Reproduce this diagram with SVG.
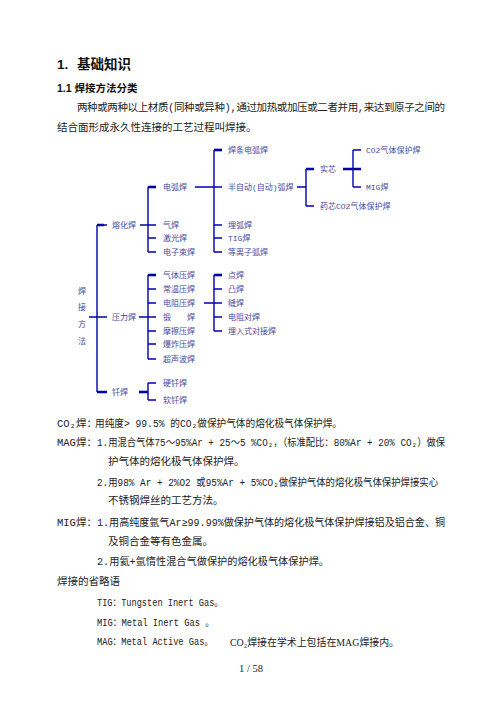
<svg xmlns="http://www.w3.org/2000/svg" width="502" height="708" viewBox="0 0 502 708">
<style>
.t{font-family:'Liberation Mono','Noto Sans CJK SC',monospace;font-size:10.5px;fill:#222;dominant-baseline:central}
.s{font-family:'Liberation Serif','Noto Sans CJK SC',serif;font-size:10.5px;fill:#222;dominant-baseline:central}
.h1{font-family:'Liberation Sans','Noto Sans CJK SC',sans-serif;font-size:13.5px;font-weight:bold;fill:#111;dominant-baseline:central}
.h2{font-family:'Liberation Sans','Noto Sans CJK SC',sans-serif;font-size:10.5px;font-weight:bold;fill:#111;dominant-baseline:central}
.n{font-family:'Liberation Mono','Noto Sans CJK SC',monospace;font-size:8px;fill:#4a4a9e;dominant-baseline:central}
.c path{fill:none;stroke:#0000aa;stroke-width:1.4}
.c .k{stroke-width:2.6}
</style>
<rect width="502" height="708" fill="#fff"/>
<g id="header">
<text class="h1" x="57" y="64">1.</text>
<text class="h1" x="77" y="64">基础知识</text>
<text class="h2" x="57" y="88">1.1 焊接方法分类</text>
<text class="t" x="77" y="108" textLength="368" lengthAdjust="spacing">两种或两种以上材质(同种或异种),通过加热或加压或二者并用,来达到原子之间的</text>
<text class="t" x="57" y="128">结合面形成永久性连接的工艺过程叫焊接。</text>
</g>
<g id="connectors" class="c">
<path d="M97,225V392M97,225H107M89,317H107"/>
<path class="k" d="M97,392H107M97,225H104"/>
<path d="M140,225H148M148,187V252M148,225H156M148,238H156M148,252H156"/>
<path class="k" d="M148,187H156"/>
<path d="M195,187H214M214,150V252M214,187H222M214,225H222M214,238H222M214,252H222"/>
<path class="k" d="M214,150H222"/>
<path d="M297,187H306M306,169V206M306,206H314"/>
<path class="k" d="M306,169H314M343,169H361"/>
<path d="M353,150V187M353,150H361M353,187H361"/>
<path d="M139,317H148M148,275V359M148,289H156M148,303H156M148,317H156M148,331H156M148,344H156M148,359H156"/>
<path class="k" d="M148,275H156"/>
<path d="M204,303H214M214,275V331M214,289H222M214,303H222M214,317H222M214,331H222"/>
<path class="k" d="M214,275H222"/>
<path d="M148,383V400M148,383H156M148,400H156"/>
<path class="k" d="M139,392H148"/>
</g>
<g id="root">
<text class="n" x="78" y="291">焊</text>
<text class="n" x="78" y="307">接</text>
<text class="n" x="78" y="324">方</text>
<text class="n" x="78" y="341">法</text>
</g>
<g id="n-ronghua"><text class="n" x="112" y="225">熔化焊</text></g>
<g id="n-dianhu"><text class="n" x="163" y="187">电弧焊</text></g>
<g id="n-qihan"><text class="n" x="163" y="225">气焊</text></g>
<g id="n-jiguang"><text class="n" x="163" y="238">激光焊</text></g>
<g id="n-dianzi"><text class="n" x="163" y="252">电子束焊</text></g>
<g id="n-hantiao"><text class="n" x="228" y="150">焊条电弧焊</text></g>
<g id="n-banzidong"><text class="n" x="228" y="187">半自动(自动)弧焊</text></g>
<g id="n-maihu"><text class="n" x="228" y="225">埋弧焊</text></g>
<g id="n-tig"><text class="n" x="228" y="238">TIG焊</text></g>
<g id="n-denglizi"><text class="n" x="228" y="252">等离子弧焊</text></g>
<g id="n-shixin"><text class="n" x="320" y="169">实芯</text></g>
<g id="n-yaoxin"><text class="n" x="320" y="206">药芯CO2气体保护焊</text></g>
<g id="n-co2"><text class="n" x="366" y="150">CO2气体保护焊</text></g>
<g id="n-mig"><text class="n" x="366" y="187">MIG焊</text></g>
<g id="n-yali"><text class="n" x="112" y="317">压力焊</text></g>
<g id="n-qiti"><text class="n" x="163" y="275">气体压焊</text></g>
<g id="n-changwen"><text class="n" x="163" y="289">常温压焊</text></g>
<g id="n-dianzu"><text class="n" x="163" y="303">电阻压焊</text></g>
<g id="n-duan"><text class="n" x="163" y="317">锻　　焊</text></g>
<g id="n-moca"><text class="n" x="163" y="331">摩擦压焊</text></g>
<g id="n-baozha"><text class="n" x="163" y="344">爆炸压焊</text></g>
<g id="n-chaosheng"><text class="n" x="163" y="359">超声波焊</text></g>
<g id="n-dian"><text class="n" x="228" y="275">点焊</text></g>
<g id="n-tu"><text class="n" x="228" y="289">凸焊</text></g>
<g id="n-feng"><text class="n" x="228" y="303">缝焊</text></g>
<g id="n-duihan"><text class="n" x="228" y="317">电阻对焊</text></g>
<g id="n-mairu"><text class="n" x="228" y="331">埋入式对接焊</text></g>
<g id="n-qian"><text class="n" x="112" y="392">钎焊</text></g>
<g id="n-ying"><text class="n" x="163" y="383">硬钎焊</text></g>
<g id="n-ruan"><text class="n" x="163" y="400">软钎焊</text></g>
<g id="body">
<text class="t" x="57" y="424">CO₂焊：</text>
<text class="t" x="95" y="424" textLength="247" lengthAdjust="spacingAndGlyphs">用纯度&gt; 99.5% 的CO₂做保护气体的熔化极气体保护焊。</text>
<text class="t" x="57" y="443">MAG焊：</text>
<text class="t" x="97" y="443" textLength="348" lengthAdjust="spacingAndGlyphs">1.用混合气体75～95%Ar + 25～5 %CO₂，（标准配比：80%Ar + 20% CO₂）做保</text>
<text class="t" x="108" y="462">护气体的熔化极气体保护焊。</text>
<text class="t" x="97" y="483" textLength="341" lengthAdjust="spacingAndGlyphs">2.用98% Ar + 2%O2 或95%Ar + 5%CO₂做保护气体的熔化极气体保护焊接实心</text>
<text class="t" x="108" y="501">不锈钢焊丝的工艺方法。</text>
<text class="t" x="57" y="523">MIG焊：</text>
<text class="t" x="97" y="523" textLength="348" lengthAdjust="spacingAndGlyphs">1.用高纯度氩气Ar≥99.99%做保护气体的熔化极气体保护焊接铝及铝合金、铜</text>
<text class="t" x="108" y="542">及铜合金等有色金属。</text>
<text class="t" x="97" y="562" textLength="232" lengthAdjust="spacingAndGlyphs">2.用氦+氩惰性混合气做保护的熔化极气体保护焊。</text>
<text class="t" x="57" y="582">焊接的省略语</text>
<text class="t" x="97" y="603" textLength="126" lengthAdjust="spacingAndGlyphs">TIG：Tungsten Inert Gas。</text>
<text class="t" x="97" y="623" textLength="117" lengthAdjust="spacingAndGlyphs">MIG：Metal Inert Gas 。</text>
<text class="t" x="97" y="642" textLength="116" lengthAdjust="spacingAndGlyphs">MAG：Metal Active Gas。</text>
<text class="s" x="230" y="642" textLength="169" lengthAdjust="spacingAndGlyphs">CO₂焊接在学术上包括在MAG焊接内。</text>
<text class="s" x="251" y="668" text-anchor="middle" font-size="10">1 / 58</text>
</g>
</svg>
